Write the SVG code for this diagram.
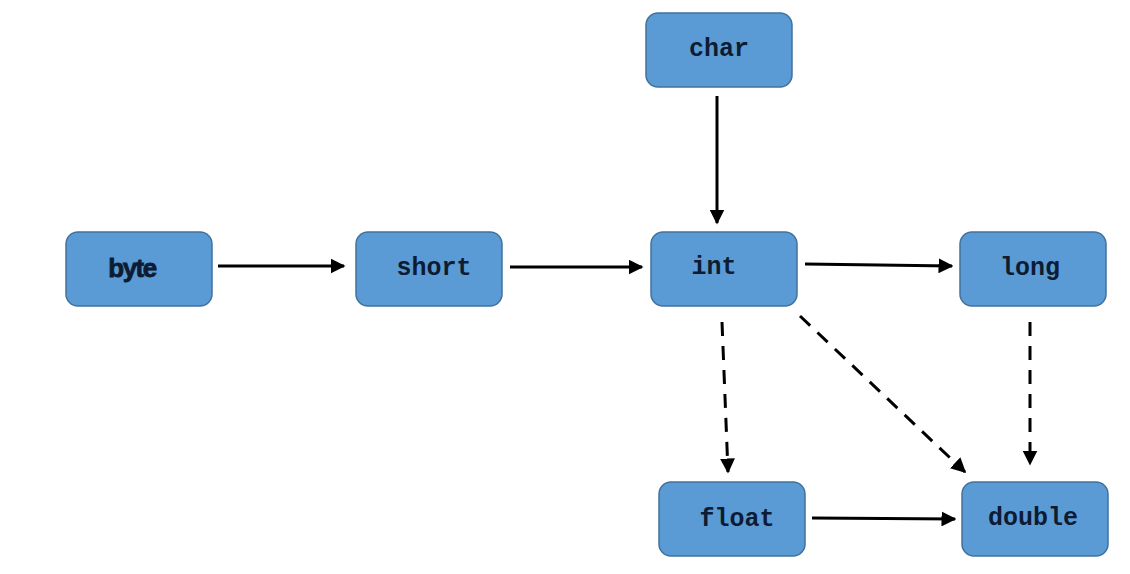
<svg xmlns="http://www.w3.org/2000/svg" width="1130" height="574" viewBox="0 0 1130 574">
<style>
.node rect{fill:#5b9bd5;stroke:#41719c;stroke-width:1.5}
.node text{font-family:"Liberation Mono",monospace;font-weight:bold;font-size:25px;fill:#0d1b33;text-anchor:middle;dominant-baseline:central}
.edge{stroke:#000;stroke-width:3;fill:none;marker-end:url(#ah)}
.dash{stroke-dasharray:14 10}
</style>
<defs>
<marker id="ah" viewBox="0 0 10 10" refX="9" refY="5" markerWidth="5" markerHeight="5" orient="auto" markerUnits="strokeWidth">
<path d="M0,0 L10,5 L0,10 z" fill="#000"/>
</marker>
</defs>
<rect width="1130" height="574" fill="#fff"/>
<g id="connectors">
<line class="edge" x1="218" y1="266" x2="344" y2="266"/>
<line class="edge" x1="510" y1="267" x2="642" y2="267"/>
<line class="edge" x1="805" y1="264" x2="952" y2="266"/>
<line class="edge" x1="717" y1="96" x2="717" y2="223"/>
<line class="edge dash" x1="722" y1="322" x2="728" y2="472"/>
<line class="edge dash" x1="800" y1="316" x2="965" y2="472"/>
<line class="edge dash" x1="1030" y1="322" x2="1030" y2="464"/>
<line class="edge" x1="812" y1="518" x2="955" y2="519"/>
</g>
<g id="char" class="node"><rect x="646" y="13" width="146" height="74" rx="12"/><text x="719" y="49">char</text></g>
<g id="byte" class="node"><rect x="66" y="232" width="146" height="74" rx="12"/><text x="132" y="268" style="font-family:'Liberation Sans',sans-serif;font-size:26px;letter-spacing:-1.5px;stroke:#0d1b33;stroke-width:0.8">byte</text></g>
<g id="short" class="node"><rect x="356" y="232" width="146" height="74" rx="12"/><text x="434" y="268">short</text></g>
<g id="int" class="node"><rect x="651" y="232" width="146" height="74" rx="12"/><text x="714" y="267">int</text></g>
<g id="long" class="node"><rect x="960" y="232" width="146" height="74" rx="12"/><text x="1030" y="268">long</text></g>
<g id="float" class="node"><rect x="659" y="482" width="146" height="74" rx="12"/><text x="737" y="519">float</text></g>
<g id="double" class="node"><rect x="962" y="482" width="146" height="74" rx="12"/><text x="1033" y="518">double</text></g>
</svg>
